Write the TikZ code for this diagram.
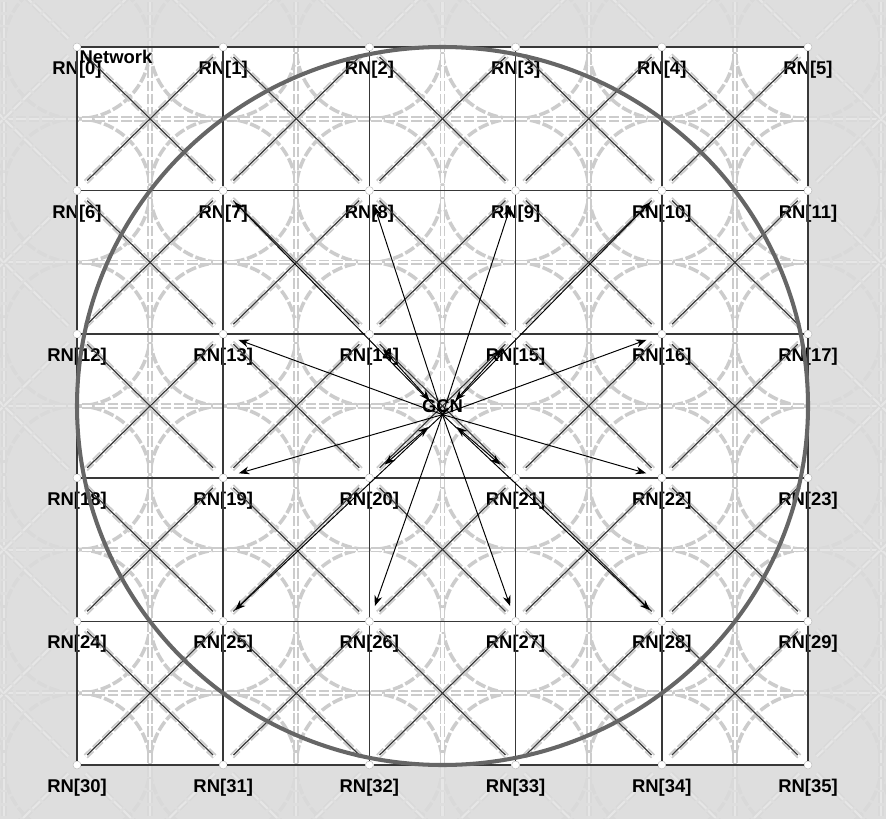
\documentclass[tikz,border=0pt]{standalone}
\usepackage{fontspec}
\setmainfont{Liberation Sans}
\usetikzlibrary{arrows.meta}

\tikzset{
  rn/.style={circle, fill=white, draw=black!25, line width=0.3pt, minimum size=0.16cm, inner sep=0pt},
  rnlabel/.style={font=\bfseries\fontsize{10.5}{12}\selectfont, inner sep=0pt, label distance=0.19cm},
  netlabel/.style={font=\bfseries\fontsize{10.5}{12}\selectfont, inner sep=0pt},
  gridline/.style={draw=black!78, line width=0.9pt},
  diagline/.style={draw=black!78, line width=0.7pt, shorten <=0.2cm, shorten >=0.2cm},
  bgstar/.style={draw=black!20, line width=2pt, dash pattern=on 6pt off 1.5pt},
  bgline/.style={draw=black!20, line width=1pt, double=white, double distance=1.2pt, dash pattern=on 6pt off 1.5pt},
  ring/.style={draw=black!60, line width=2.3pt},
  msg/.style={draw=black, line width=0.55pt, -{Stealth[length=6pt,width=4.5pt]}, shorten >=0.24cm},
  duplex/.style={draw=black, line width=0.55pt, {Stealth[length=6pt,width=4.5pt]}-{Stealth[length=6pt,width=4.5pt]}, shorten <=0.38cm, shorten >=0.32cm}
}

\begin{document}
\begin{tikzpicture}[x={(2.924cm,0cm)}, y={(0cm,-2.872cm)}]
    \useasboundingbox (-0.5267,-0.3273) rectangle (5.5335,5.3760);
    \fill[black!12] (-0.5267,-0.3273) rectangle (5.5335,5.3760);
    \fill[white] (0,0) rectangle (5,5);

    % background pattern
    \begin{scope}
      \clip (-0.5267,-0.3273) rectangle (5.5335,5.3760);
      \foreach \i in {-1,...,6}
        \foreach \j in {-1,...,6}
          \draw[bgstar] (\i,\j) circle[radius=0.5];
      \foreach \k in {-1,...,5} {
        \draw[bgline] (\k+0.5,-0.5) -- (\k+0.5,5.5);
        \draw[bgline] (-0.6,\k+0.5) -- (5.6,\k+0.5);
      }
      \foreach \i in {-1,...,5}
        \foreach \j in {-1,...,5} {
          \draw[bgline] (\i+0.06,\j+0.06) -- (\i+0.94,\j+0.94);
          \draw[bgline] (\i+0.94,\j+0.06) -- (\i+0.06,\j+0.94);
        }
      % faint outside the field
      \fill[black!13, opacity=0.75, even odd rule]
        (-0.5267,-0.3273) rectangle (5.5335,5.3760) (0,0) rectangle (5,5);
    \end{scope}

    % nodes
    \foreach \j in {0,...,5}
      \foreach \i in {0,...,5} {
        \pgfmathtruncatemacro{\n}{\i+6*\j}
        \node[rn, label={[rnlabel]below:{RN[\n]}}] (rn\n) at (\i,\j) {};
      }

    % grid
    \foreach \j in {0,...,5}
      \foreach \i in {0,...,4} {
        \pgfmathtruncatemacro{\a}{\i+6*\j}
        \pgfmathtruncatemacro{\b}{\a+1}
        \draw[gridline] (rn\a) -- (rn\b);
      }
    \foreach \j in {0,...,4}
      \foreach \i in {0,...,5} {
        \pgfmathtruncatemacro{\a}{\i+6*\j}
        \pgfmathtruncatemacro{\b}{\a+6}
        \draw[gridline] (rn\a) -- (rn\b);
      }

    % diagonals
    \foreach \j in {0,...,4}
      \foreach \i in {0,...,4} {
        \pgfmathtruncatemacro{\a}{\i+6*\j}
        \pgfmathtruncatemacro{\b}{\a+1}
        \pgfmathtruncatemacro{\c}{\a+7}
        \pgfmathtruncatemacro{\d}{\a+6}
        \draw[diagline] (rn\a) -- (rn\c);
        \draw[diagline] (rn\b) -- (rn\d);
      }

    \draw[ring] (2.5,2.5) circle[radius=2.5];

    % GCN and its messages
    \coordinate (gcn) at (2.5,2.56);
    \node[netlabel] (gcnname) at (2.5,2.5) {GCN};
    \foreach \t in {7,8,9,10,13,16,19,22,25,26,27,28}
      \draw[msg] (gcn) -- (rn\t);
    \foreach \t in {14,15,20,21}
      \draw[duplex] (gcn) -- (rn\t);

    \node[netlabel] (netname) at (0.267,0.07) {Network};
\end{tikzpicture}
\end{document}
